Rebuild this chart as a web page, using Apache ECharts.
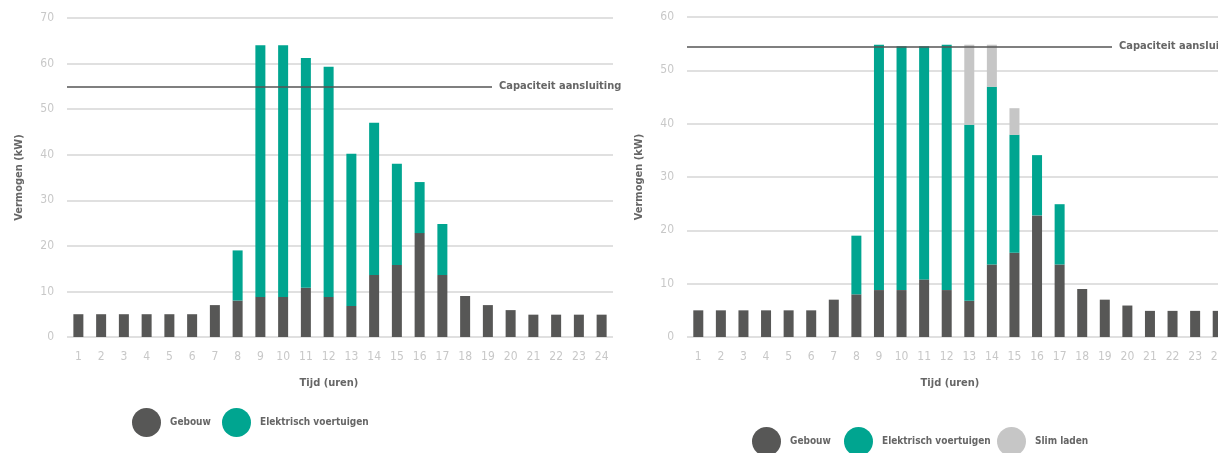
<!doctype html>
<html>
<head>
    <title>Vermogen per uur</title>
    <script src="https://cdn.jsdelivr.net/npm/echarts@6/dist/echarts.min.js"></script>
</head>
<style>
    html, body { margin: 0; padding: 0; background: #fff; }
    #chart { width: 1218px; height: 453px; }
</style>
<body>
<div id="chart"></div>
<script>
  // data (kW)
  var hours = ['1','2','3','4','5','6','7','8','9','10','11','12','13','14','15','16','17','18','19','20','21','22','23','24'];
  var gebouw = [5, 5, 5, 5, 5, 5, 7, 8, 8.8, 8.8, 10.8, 8.8, 6.8, 13.6, 15.8, 22.8, 13.6, 9, 7, 5.9, 4.9, 4.9, 4.9, 4.9];
  // left chart: uncontrolled charging
  var evLeft = [0, 0, 0, 0, 0, 0, 0, 11, 55.2, 55.2, 50.4, 50.5, 33.4, 33.4, 22.2, 11.2, 11.2, 0, 0, 0, 0, 0, 0, 0];
  // right chart: smart charging
  var evRight = [0, 0, 0, 0, 0, 0, 0, 11, 46, 45.7, 43.7, 46, 33, 33.3, 22.1, 11.3, 11.3, 0, 0, 0, 0, 0, 0, 0];
  var slimLaden = [0, 0, 0, 0, 0, 0, 0, 0, 0, 0, 0, 0, 15, 7.9, 5, 0, 0, 0, 0, 0, 0, 0, 0, 0];
  var capLeft = 55;
  var capRight = 54.5;

  var font = "'DejaVu Sans Condensed', 'Liberation Sans Narrow', sans-serif";
  var cGebouw = '#575756', cEv = '#00a590', cSlim = '#c6c6c6';

  var chart = echarts.init(document.getElementById('chart'));

  function xAxis(idx, pad) {
    return {
      type: 'category', gridIndex: idx, data: hours,
      axisLine: { show: false }, axisTick: { show: false },
      axisLabel: { color: '#c8c8c8', fontSize: 12, fontFamily: font, margin: 9 },
      name: 'Tijd (uren)', nameLocation: 'middle', nameGap: 35,
      nameTextStyle: { color: '#666', fontSize: 11, fontWeight: 'bold', fontFamily: font, padding: pad }
    };
  }
  function yAxis(idx, max) {
    return {
      type: 'value', gridIndex: idx, min: 0, max: max, interval: 10,
      axisLine: { show: false }, axisTick: { show: false },
      axisLabel: { color: '#c8c8c8', fontSize: 12, fontFamily: font, margin: 13 },
      splitLine: { lineStyle: { color: '#e0e0e0', width: 2 } },
      name: 'Vermogen (kW)', nameLocation: 'middle', nameGap: 37, nameRotate: 90,
      nameTextStyle: { color: '#666', fontSize: 11, fontWeight: 'bold', fontFamily: font }
    };
  }
  function capLine(value, x0, x1) {
    return {
      silent: true, symbol: 'none',
      lineStyle: { color: '#555', width: 1.5, type: 'solid' },
      label: { show: true, position: 'end', distance: 7, formatter: 'Capaciteit aansluiting',
        color: '#666', fontSize: 11, fontWeight: 'bold', fontFamily: font },
      data: [[{ coord: [0, value], x: x0 }, { coord: [0, value], x: x1 }]]
    };
  }

  var legendText = { color: '#666', fontSize: 10, fontWeight: 'bold', fontFamily: font, padding: [0, 0, 0, 4] };
  function legendItem(name, left, top) {
    return { left: left, top: top, padding: 0, icon: 'circle', itemWidth: 29, itemHeight: 29,
      data: [name], textStyle: legendText };
  }

  var option = {
    animation: false,
    textStyle: { fontFamily: font },
    legend: [
      legendItem('Gebouw', 132, 408),
      legendItem('Elektrisch voertuigen', 222, 408),
      legendItem('Gebouw', 752, 427),
      legendItem('Elektrisch voertuigen', 844, 427),
      legendItem('Slim laden', 997, 427)
    ],
    grid: [
      { left: 67, width: 546, top: 18, bottom: 116, outerBoundsMode: 'none' },
      { left: 687, width: 542, top: 17, bottom: 116, outerBoundsMode: 'none' }
    ],
    xAxis: [xAxis(0, [0, 22, 0, 0]), xAxis(1, [0, 16, 0, 0])],
    yAxis: [yAxis(0, 70), yAxis(1, 60)],
    series: [
      { name: 'Gebouw', type: 'bar', stack: 'l', xAxisIndex: 0, yAxisIndex: 0, barWidth: 10,
        itemStyle: { color: cGebouw }, data: gebouw,
        markLine: capLine(capLeft, 67, 492) },
      { name: 'Elektrisch voertuigen', type: 'bar', stack: 'l', xAxisIndex: 0, yAxisIndex: 0, barWidth: 10,
        itemStyle: { color: cEv }, data: evLeft },
      { name: 'Gebouw', type: 'bar', stack: 'r', xAxisIndex: 1, yAxisIndex: 1, barWidth: 10,
        itemStyle: { color: cGebouw }, data: gebouw,
        markLine: capLine(capRight, 687, 1112) },
      { name: 'Elektrisch voertuigen', type: 'bar', stack: 'r', xAxisIndex: 1, yAxisIndex: 1, barWidth: 10,
        itemStyle: { color: cEv }, data: evRight },
      { name: 'Slim laden', type: 'bar', stack: 'r', xAxisIndex: 1, yAxisIndex: 1, barWidth: 10,
        itemStyle: { color: cSlim }, data: slimLaden }
    ]
  };

  chart.setOption(option);
</script>
</body>
</html>
